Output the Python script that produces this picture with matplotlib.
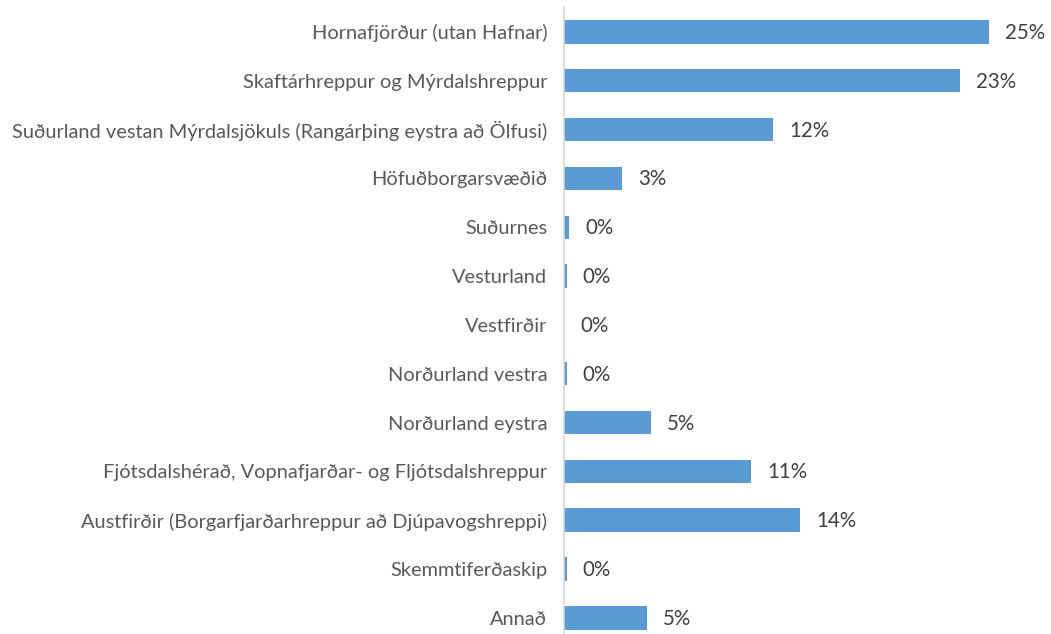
import matplotlib
matplotlib.use("Agg")
import matplotlib.pyplot as plt

# Data (share of responses, %)
categories = [
    "Hornafjörður (utan Hafnar)",
    "Skaftárhreppur og Mýrdalshreppur",
    "Suðurland vestan Mýrdalsjökuls (Rangárþing eystra að Ölfusi)",
    "Höfuðborgarsvæðið",
    "Suðurnes",
    "Vesturland",
    "Vestfirðir",
    "Norðurland vestra",
    "Norðurland eystra",
    "Fjótsdalshérað, Vopnafjarðar- og Fljótsdalshreppur",
    "Austfirðir (Borgarfjarðarhreppur að Djúpavogshreppi)",
    "Skemmtiferðaskip",
    "Annað",
]
values = [25.0, 23.3, 12.3, 3.4, 0.32, 0.15, 0.0, 0.15, 5.1, 11.0, 13.9, 0.15, 4.9]
value_labels = ["25%", "23%", "12%", "3%", "0%", "0%", "0%", "0%", "5%", "11%", "14%", "0%", "5%"]

plt.rcParams["font.family"] = ["Lato", "DejaVu Sans"]

fig = plt.figure(figsize=(10.51, 6.34), dpi=100)
ax = fig.add_axes([564 / 1051, 1 / 634, 476 / 1051, 626 / 634])

y = list(range(len(categories)))
ax.barh(y, values, height=0.48, color="#5B9BD5")

for yi, v, lab in zip(y, values, value_labels):
    ax.annotate(lab, (v, yi), xytext=(16, -1), textcoords="offset pixels",
                va="center", ha="left", fontsize=14.8, color="#404040")

ax.set_yticks(y)
ax.set_yticklabels(categories, fontsize=14.4, color="#595959")
ax.tick_params(axis="y", length=0, pad=12)
ax.set_xticks([])
ax.set_xlim(0, 28)
ax.set_ylim(12.31, -0.51)

for side in ["top", "right", "bottom"]:
    ax.spines[side].set_visible(False)
ax.spines["left"].set_color("#D9D9D9")
ax.spines["left"].set_linewidth(1.2)

fig.savefig("out.png", dpi=100)
